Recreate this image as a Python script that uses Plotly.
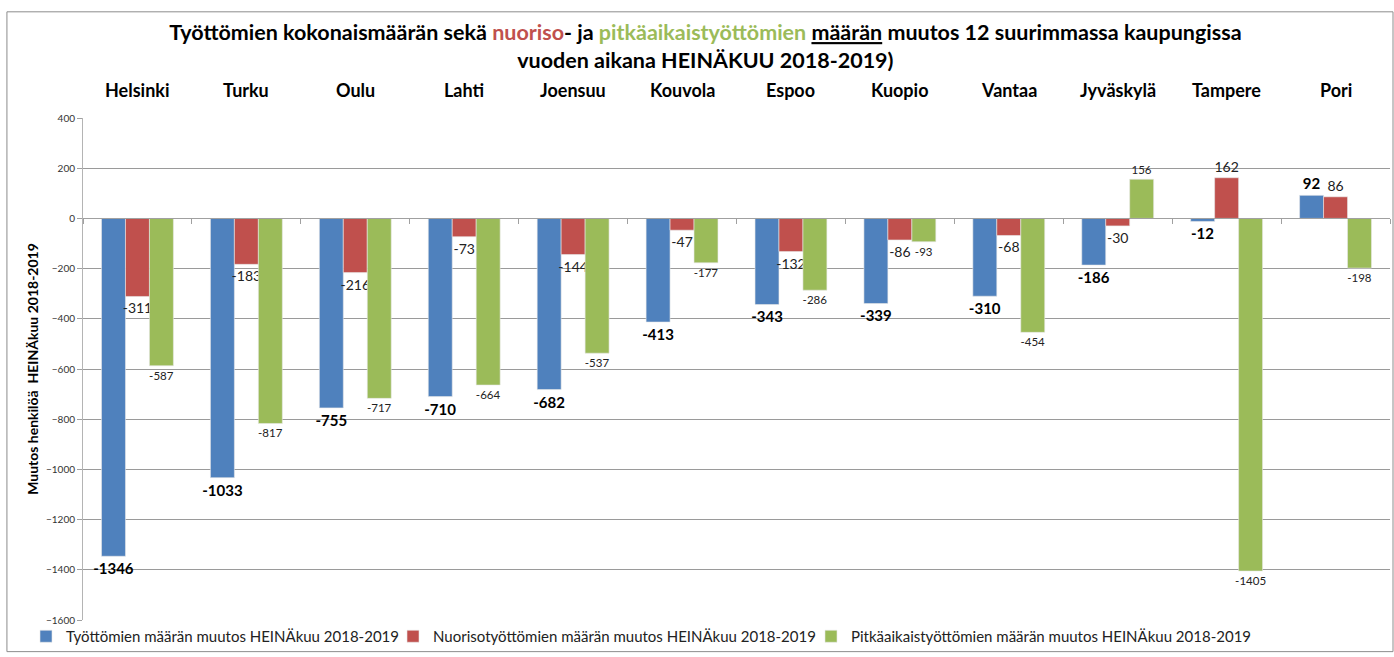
import plotly.graph_objects as go

cities = ["Helsinki", "Turku", "Oulu", "Lahti", "Joensuu", "Kouvola", "Espoo",
          "Kuopio", "Vantaa", "Jyväskylä", "Tampere", "Pori"]
total = [-1346, -1033, -755, -710, -682, -413, -343, -339, -310, -186, -12, 92]
youth = [-311, -183, -216, -73, -144, -47, -132, -86, -68, -30, 162, 86]
longterm = [-587, -817, -717, -664, -537, -177, -286, -93, -454, 156, -1405, -198]

names = ["Työttömien määrän muutos HEINÄkuu 2018-2019",
         "Nuorisotyöttömien määrän muutos HEINÄkuu 2018-2019",
         "Pitkäaikaistyöttömien määrän muutos HEINÄkuu 2018-2019"]
colors = ["#4F81BD", "#C0504D", "#9BBB59"]
FONT = "Lato"

fig = go.Figure()
fig.add_trace(go.Bar(x=cities, y=total, name=names[0], marker_color=colors[0],
                     marker_line=dict(color="#E8E8E8", width=0.6),
                     text=[f"<b>{v}</b>" for v in total], textposition="outside",
                     constraintext="none", legend="legend",
                     textfont=dict(size=15, color="#000000", family=FONT),
                     cliponaxis=False))
fig.add_trace(go.Bar(x=cities, y=youth, name=names[1], marker_color=colors[1],
                     marker_line=dict(color="#E8E8E8", width=0.6),
                     text=[str(v) for v in youth], textposition="outside",
                     constraintext="none", legend="legend2",
                     textfont=dict(size=14, color="#222222", family=FONT),
                     cliponaxis=False))
fig.add_trace(go.Bar(x=cities, y=longterm, name=names[2], marker_color=colors[2],
                     marker_line=dict(color="#E8E8E8", width=0.6),
                     text=[str(v) for v in longterm], textposition="outside",
                     constraintext="none", legend="legend3",
                     textfont=dict(size=11.5, color="#222222", family=FONT),
                     cliponaxis=False))

# category names above the plot
for c in cities:
    fig.add_annotation(x=c, xref="x", y=1, yref="paper", yanchor="bottom",
                       yshift=15, text=f"<b>{c}</b>", showarrow=False,
                       font=dict(size=18, color="#000000", family=FONT))

title = ("<b>Työttömien kokonaismäärän sekä <span style='color:#C0504D'>nuoriso</span>- ja "
         "<span style='color:#9BBB59'>pitkäaikaistyöttömien</span> <u>määrän</u> "
         "muutos 12 suurimmassa kaupungissa<br>vuoden aikana HEINÄKUU 2018-2019)</b>")

leg_common = dict(orientation="h", xanchor="left", y=0.0, yanchor="top",
                  font=dict(size=15, color="#222222", family=FONT),
                  bgcolor="rgba(0,0,0,0)", itemwidth=30)

fig.update_layout(
    width=1394, height=657,
    paper_bgcolor="white", plot_bgcolor="white",
    font=dict(family=FONT, color="#000000"),
    margin=dict(l=83, r=4, t=118, b=33),
    barmode="group", bargap=0.34, bargroupgap=0,
    title=dict(text=title, x=0.506, xanchor="center", y=0.939, yanchor="top",
               font=dict(size=21.5, color="#000000", family=FONT)),
    showlegend=True,
    legend=dict(x=-0.0436, **leg_common),
    legend2=dict(x=0.2372, **leg_common),
    legend3=dict(x=0.5570, **leg_common),
    shapes=[dict(type="rect", xref="paper", yref="paper",
                 x0=-0.0582, x1=1.0023, y0=-0.063, y1=1.2115,
                 line=dict(color="#8C8C8C", width=1), layer="below")],
)
fig.update_xaxes(showticklabels=False, anchor="free", position=(1600 / 2000),
                 ticks="outside", tickson="boundaries", ticklen=5,
                 tickcolor="#A0A0A0", showline=True, linecolor="#A0A0A0",
                 showgrid=False, zeroline=False)
fig.update_yaxes(range=[-1600, 400], dtick=200, showgrid=True, gridcolor="#9A9A9A",
                 gridwidth=1, zeroline=False, showline=True, linecolor="#B4B4B4",
                 ticks="outside", ticklen=5, tickcolor="#A0A0A0",
                 tickfont=dict(size=10, color="#333333", family=FONT),
                 title=dict(text="<b>Muutos henkilöä  HEINÄkuu 2018-2019</b>",
                            font=dict(size=14, color="#000000", family=FONT),
                            standoff=4))

fig.write_html("out.html", config={"displayModeBar": False},
               post_script="document.body.style.margin='0';")
